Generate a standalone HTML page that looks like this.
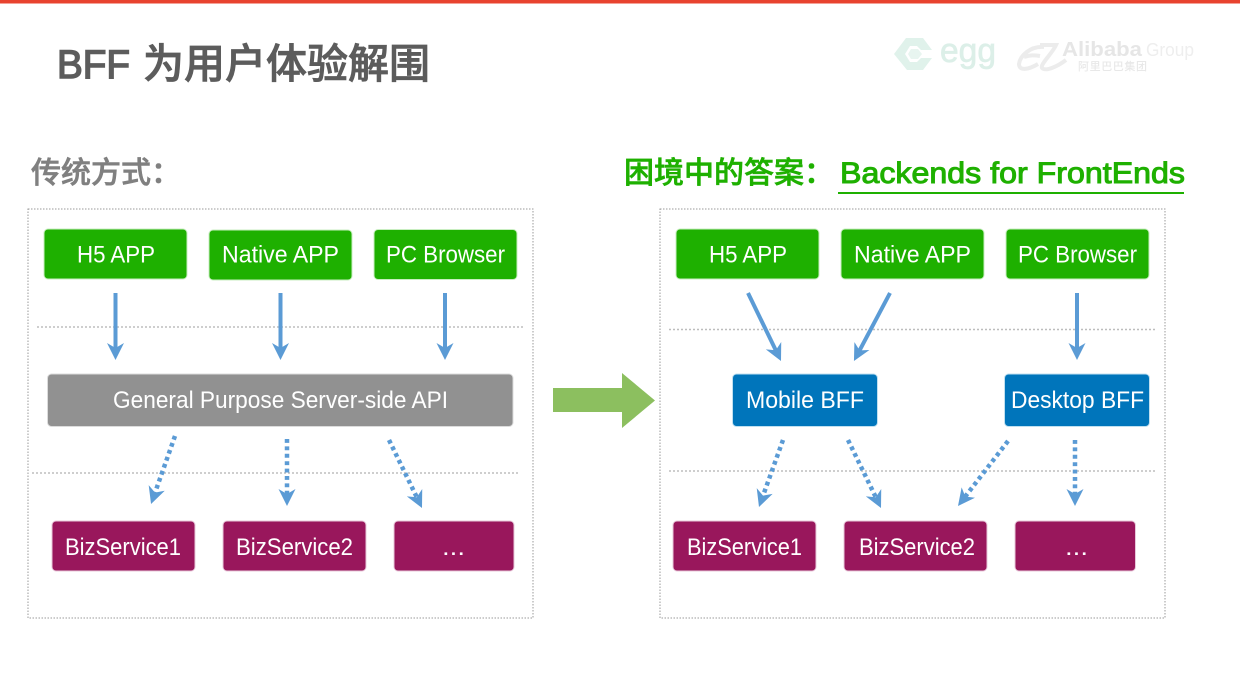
<!DOCTYPE html>
<html><head><meta charset="utf-8"><style>
html,body{margin:0;padding:0;background:#fff;width:1240px;height:698px;overflow:hidden}
svg{display:block}
text{font-family:"Liberation Sans","Noto Sans CJK SC",sans-serif}
.c{font-family:"Noto Sans CJK SC","Liberation Sans",sans-serif;font-weight:500}
.w{fill:#fff;font-size:24px;text-anchor:start}
.s{stroke:#5b9bd5;stroke-width:4;fill:none;marker-end:url(#h)}
.d{stroke:#5b9bd5;stroke-width:4.500;fill:none;stroke-dasharray:3.900 3.500;marker-end:url(#h)}
.g{fill:#1eb000;stroke:#c8eec0;stroke-width:1}
.p{fill:#99175c;stroke:#e8c8da;stroke-width:1}
.b{fill:#0075bb;stroke:#c0e0f0;stroke-width:1}
.l{stroke:#bdbdbd;stroke-width:1.500;stroke-dasharray:2 2;fill:none}
.f{stroke:#9a9a9a;stroke-width:1;stroke-dasharray:1.500 1.500;fill:none}
</style></head><body>
<svg width="1240" height="698" viewBox="0 0 1240 698" xmlns="http://www.w3.org/2000/svg">
<defs><marker id="h" markerUnits="userSpaceOnUse" markerWidth="17" markerHeight="17" viewBox="0 0 17 17" refX="6" refY="8.500" orient="auto"><path d="M0 0L17 8.500L0 17L5 8.500Z" fill="#5b9bd5"/></marker></defs>
<rect width="1240" height="3.500" fill="#e8432f"/>
<text x="57" y="78" font-size="40" fill="#5c5c5c" stroke="#5c5c5c" stroke-width="1.500" textLength="73" lengthAdjust="spacingAndGlyphs">BFF</text>
<text class="c" x="143" y="78" font-size="41" fill="#5c5c5c" stroke="#5c5c5c" stroke-width="0.800" textLength="287">为用户体验解围</text>

<!-- logos -->
<path d="M906 38H923L932 50H921L917 46H910L905 54L910 62H917L921 58H932L923 70H907L894 54Z" fill="#e0f2eb"/>
<path d="M911 49H918L922 54L918 59H911L908 54Z" fill="#e8f5f0"/>
<text x="940" y="62" font-size="34" fill="#dcefe8" stroke="#dcefe8" stroke-width="0.700" textLength="56" lengthAdjust="spacingAndGlyphs">egg</text>
<path d="M1044 47C1030 46 1020 56 1019 64C1019 71 1028 70 1038 64M1024 57C1030 55 1034 55 1040 56M1040 45H1056C1052 54 1040 64 1042 68C1046 72 1058 66 1066 60" fill="none" stroke="#ececec" stroke-width="4"/>
<text x="1062" y="56" font-size="20" font-weight="700" fill="#e6e6e6" textLength="80" lengthAdjust="spacingAndGlyphs">Alibaba</text>
<text x="1146" y="56" font-size="18" fill="#eeeeee" textLength="48" lengthAdjust="spacingAndGlyphs">Group</text>
<text class="c" x="1078" y="70" font-size="11" fill="#e8e8e8" textLength="69">阿里巴巴集团</text>

<text class="c" x="31" y="183" font-size="30" fill="#808080" stroke="#808080" stroke-width="0.600">传统方式：</text>
<text class="c" x="624" y="183" font-size="30" fill="#1eb000" stroke="#1eb000" stroke-width="0.600">困境中的答案：</text>
<text x="840" y="183" font-size="30" fill="#1eb000" stroke="#1eb000" stroke-width="1" textLength="345" lengthAdjust="spacingAndGlyphs">Backends for FrontEnds</text>
<rect x="838" y="192" width="346" height="2" fill="#1eb000"/>

<!-- frames -->
<rect x="28" y="209" width="505" height="409" class="f"/>
<rect x="660" y="209" width="505" height="409" class="f"/>
<path class="l" d="M37 327H524M32 473H520M669 329.500H1157M669 471H1157"/>

<!-- left boxes -->
<rect class="g" x="44" y="229" width="143" height="50" rx="4"/>
<rect class="g" x="209" y="230" width="143" height="50" rx="4"/>
<rect class="g" x="374" y="229.500" width="143" height="50" rx="4"/>
<text class="w" x="77" y="262.500" textLength="78" lengthAdjust="spacingAndGlyphs">H5 APP</text>
<text class="w" x="222" y="262.500" textLength="117" lengthAdjust="spacingAndGlyphs">Native APP</text>
<text class="w" x="386" y="262.500" textLength="119" lengthAdjust="spacingAndGlyphs">PC Browser</text>
<rect x="47.500" y="374" width="465.500" height="52.500" rx="4" fill="#919191" stroke="#dcdcdc"/>
<text class="w" x="113" y="408" textLength="335" lengthAdjust="spacingAndGlyphs">General Purpose Server-side API</text>
<rect class="p" x="52" y="521" width="143" height="50" rx="4"/>
<rect class="p" x="223" y="521" width="143" height="50" rx="4"/>
<rect class="p" x="394" y="521" width="120" height="50" rx="4"/>
<text class="w" x="65" y="555" textLength="116" lengthAdjust="spacingAndGlyphs">BizService1</text>
<text class="w" x="236" y="555" textLength="117" lengthAdjust="spacingAndGlyphs">BizService2</text>
<text class="w" x="442" y="555" textLength="23" lengthAdjust="spacingAndGlyphs">...</text>

<!-- left arrows -->
<path class="s" d="M115.500 293V349"/>
<path class="s" d="M280.500 293V349"/>
<path class="s" d="M445 293V349"/>
<path class="d" d="M175 436L154.700 493.600"/>
<path class="d" d="M287 439V495"/>
<path class="d" d="M389 440L417.200 498.100"/>

<!-- big arrow -->
<path d="M553 388H622V373L655 400.500L622 428V412H553Z" fill="#8cbf5f"/>

<!-- right boxes -->
<rect class="g" x="676" y="229" width="143" height="50" rx="4"/>
<rect class="g" x="841" y="229" width="143" height="50" rx="4"/>
<rect class="g" x="1006" y="229" width="143" height="50" rx="4"/>
<text class="w" x="709" y="262.500" textLength="78" lengthAdjust="spacingAndGlyphs">H5 APP</text>
<text class="w" x="854" y="262.500" textLength="117" lengthAdjust="spacingAndGlyphs">Native APP</text>
<text class="w" x="1018" y="262.500" textLength="119" lengthAdjust="spacingAndGlyphs">PC Browser</text>
<rect class="b" x="732.500" y="374" width="145" height="52.500" rx="4"/>
<rect class="b" x="1004.500" y="374" width="145" height="52.500" rx="4"/>
<text class="w" x="746" y="408" textLength="118" lengthAdjust="spacingAndGlyphs">Mobile BFF</text>
<text class="w" x="1011" y="408" textLength="133" lengthAdjust="spacingAndGlyphs">Desktop BFF</text>
<rect class="p" x="673" y="521" width="143" height="50" rx="4"/>
<rect class="p" x="844" y="521" width="143" height="50" rx="4"/>
<rect class="p" x="1015" y="521" width="120.500" height="50" rx="4"/>
<text class="w" x="687" y="555" textLength="115" lengthAdjust="spacingAndGlyphs">BizService1</text>
<text class="w" x="859" y="555" textLength="116" lengthAdjust="spacingAndGlyphs">BizService2</text>
<text class="w" x="1065" y="555" textLength="23" lengthAdjust="spacingAndGlyphs">...</text>

<!-- right arrows -->
<path class="s" d="M748 293L776.200 351.100"/>
<path class="s" d="M890 293L859.100 351.300"/>
<path class="s" d="M1077 293V349"/>
<path class="d" d="M783 440L762.700 496.600"/>
<path class="d" d="M848 440L876.200 498.100"/>
<path class="d" d="M1008 441L964.700 497.300"/>
<path class="d" d="M1075 440V495"/>
</svg>
</body></html>
